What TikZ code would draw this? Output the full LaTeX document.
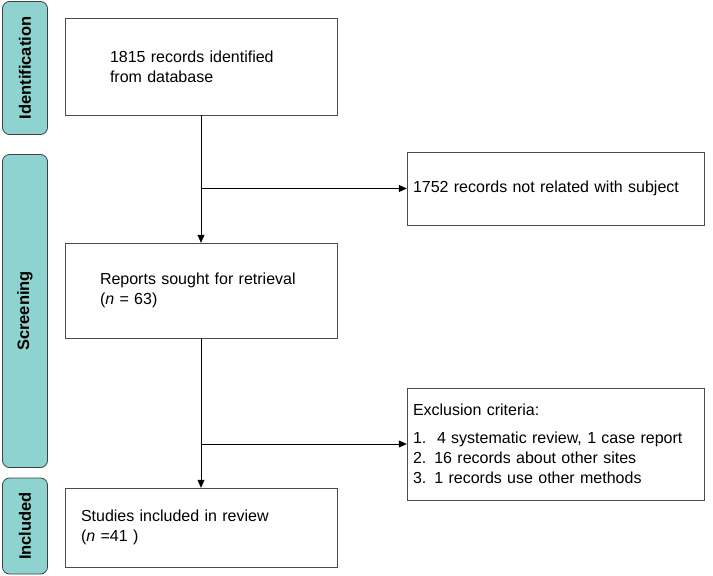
\documentclass[tikz,border=0pt]{standalone}
\usepackage{fontspec}
\setmainfont{Liberation Sans}
\usetikzlibrary{arrows.meta,positioning}
\definecolor{phaseteal}{HTML}{8ED3CF}
\begin{document}
\begin{tikzpicture}[x=1pt,y=-1pt,font=\fontsize{16}{20}\selectfont]
	\tikzstyle{phase} = [rectangle, rounded corners=7pt, draw=black!75, thick, fill=phaseteal, inner sep=0pt, font=\fontsize{16.5}{20}\selectfont\bfseries]
	\tikzstyle{stepbox} = [rectangle, draw=black!70, minimum width=272pt, align=left, text width=258pt]
	\tikzstyle{sidebox} = [rectangle, draw=black!70, minimum width=297pt, align=left, text width=285pt, inner sep=6pt]
	\tikzstyle{flow} = [-{Triangle[length=8pt,width=7pt]}, semithick]
	\useasboundingbox (0,0) rectangle (713,576);

	% Phase labels
	\node (ident) [phase, minimum width=133pt, minimum height=45pt, rotate=90] at (25,68) {Identification};
	\node (screen) [phase, minimum width=313pt, minimum height=45pt, rotate=90] at (25,311) {Screening};
	\node (incl) [phase, minimum width=96pt, minimum height=45pt, rotate=90] at (25,526) {Included};

	% Main boxes
	\node (records) [stepbox, minimum height=97pt] at (201,66.5) {\hspace*{38pt}1815 records identified\\\hspace*{38pt}from database};
	\node (sought) [stepbox, minimum height=95pt] at (201,290.5) {\hspace*{28pt}Reports sought for retrieval\\\hspace*{28pt}(\textit{n} = 63)};
	\node (studies) [stepbox, minimum height=79pt] at (201,527.5) {\hspace*{9pt}Studies included in review\\\hspace*{9pt}(\textit{n} =41 )};

	% Side boxes
	\node (notrel) [sidebox, minimum height=73pt] at (555.5,188.5) {1752 records not related with subject};
	\node (excl) [sidebox, minimum height=112pt] at (555.5,444) {Exclusion criteria:\\[8pt]1.\ \ 4 systematic review, 1 case report\\2. 16 records about other sites\\3. 1 records use other methods};

	% Connectors
	\coordinate (b1) at (records.south |- notrel.west);
	\coordinate (b2) at (sought.south |- excl.west);
	\draw[flow] (records.south) -- (sought.north);
	\draw[flow] (b1) -- (notrel.west);
	\draw[flow] (sought.south) -- (studies.north);
	\draw[flow] (b2) -- (excl.west);
\end{tikzpicture}
\end{document}
